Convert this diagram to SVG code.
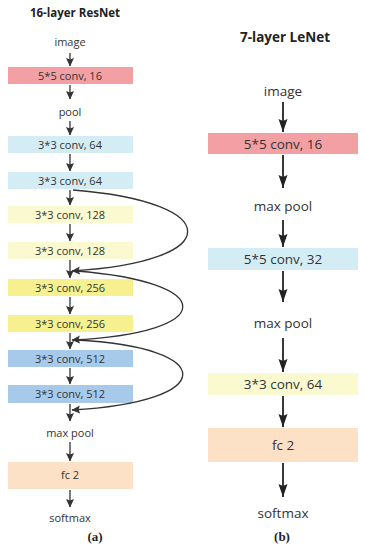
<svg xmlns="http://www.w3.org/2000/svg" width="365" height="550" viewBox="0 0 365 550">
<defs>
<marker id="ah" markerUnits="userSpaceOnUse" markerWidth="10" markerHeight="9" refX="8" refY="4" orient="auto">
<path d="M0,0 L8.5,4 L0,8 L1.5,4 z" fill="#333"/>
</marker>
<marker id="ahb" markerUnits="userSpaceOnUse" markerWidth="14" markerHeight="10" refX="13" refY="4.5" orient="auto">
<path d="M0,0 L13,4.5 L0,9 L2,4.5 z" fill="#222"/>
</marker>
</defs>
<style>
text{font-family:"Open Sans","Noto Sans","DejaVu Sans",sans-serif;fill:#333;text-anchor:middle}
.s{font-size:11px}
.b{font-size:13.5px}
.t{font-weight:bold;font-size:11.5px;fill:#222}
.t2{font-weight:bold;font-size:13.5px;fill:#222}
.cap{font-family:"Liberation Serif",serif;font-weight:bold;font-size:13px;fill:#222}
.red{fill:#F2A0A3}.lb{fill:#D4EDF5}.ly{fill:#FBF9CF}.yl{fill:#F6F18E}.bl{fill:#A7C9EA}.pc{fill:#FDE1C6}
.c line,.c path{stroke:#333;stroke-width:1.3;fill:none}
.r line{stroke:#222;stroke-width:1.8}
</style>

<text class="t" x="75" y="17">16-layer ResNet</text>
<text class="t2" x="285" y="42">7-layer LeNet</text>

<g id="a-image"><text class="s" x="70" y="46">image</text></g>
<g id="a-conv1"><rect class="red" x="8" y="67" width="125" height="17"/><text class="s" x="70" y="79.5">5*5 conv, 16</text></g>
<g id="a-pool"><text class="s" x="70" y="116">pool</text></g>
<g id="a-conv2"><rect class="lb" x="8" y="136" width="125" height="17"/><text class="s" x="70" y="148.5">3*3 conv, 64</text></g>
<g id="a-conv3"><rect class="lb" x="8" y="172" width="125" height="17"/><text class="s" x="70" y="184.5">3*3 conv, 64</text></g>
<g id="a-conv4"><rect class="ly" x="8" y="206" width="125" height="17"/><text class="s" x="70" y="218.5">3*3 conv, 128</text></g>
<g id="a-conv5"><rect class="ly" x="8" y="242" width="125" height="17"/><text class="s" x="70" y="254.5">3*3 conv, 128</text></g>
<g id="a-conv6"><rect class="yl" x="8" y="279" width="125" height="17"/><text class="s" x="70" y="291.5">3*3 conv, 256</text></g>
<g id="a-conv7"><rect class="yl" x="8" y="315" width="125" height="17"/><text class="s" x="70" y="327.5">3*3 conv, 256</text></g>
<g id="a-conv8"><rect class="bl" x="8" y="350" width="125" height="17"/><text class="s" x="70" y="362.5">3*3 conv, 512</text></g>
<g id="a-conv9"><rect class="bl" x="8" y="385" width="125" height="18"/><text class="s" x="70" y="398">3*3 conv, 512</text></g>
<g id="a-maxpool"><text class="s" x="70" y="437">max pool</text></g>
<g id="a-fc"><rect class="pc" x="8" y="462" width="125" height="27"/><text class="s" x="70" y="479">fc 2</text></g>
<g id="a-softmax"><text class="s" x="70" y="522">softmax</text></g>
<text class="cap" x="95" y="541">(a)</text>

<g id="b-image"><text class="b" x="283" y="96">image</text></g>
<g id="b-conv1"><rect class="red" x="208" y="133" width="150" height="21"/><text class="b" x="283" y="148.5">5*5 conv, 16</text></g>
<g id="b-pool1"><text class="b" x="283" y="211">max pool</text></g>
<g id="b-conv2"><rect class="lb" x="208" y="248" width="150" height="22"/><text class="b" x="283" y="264">5*5 conv, 32</text></g>
<g id="b-pool2"><text class="b" x="283" y="328">max pool</text></g>
<g id="b-conv3"><rect class="ly" x="208" y="373" width="150" height="22"/><text class="b" x="283" y="389">3*3 conv, 64</text></g>
<g id="b-fc"><rect class="pc" x="208" y="428" width="150" height="34"/><text class="b" x="283" y="450">fc 2</text></g>
<g id="b-softmax"><text class="b" x="283" y="518">softmax</text></g>
<text class="cap" x="282" y="541">(b)</text>

<g id="connectors">
<g class="c">
<line x1="70" y1="53" x2="70" y2="66" marker-end="url(#ah)"/>
<line x1="70" y1="85" x2="70" y2="99" marker-end="url(#ah)"/>
<line x1="70" y1="121" x2="70" y2="135" marker-end="url(#ah)"/>
<line x1="70" y1="154" x2="70" y2="171" marker-end="url(#ah)"/>
<line x1="70" y1="190" x2="70" y2="205" marker-end="url(#ah)"/>
<line x1="70" y1="224" x2="70" y2="241" marker-end="url(#ah)"/>
<line x1="70" y1="260" x2="70" y2="278" marker-end="url(#ah)"/>
<line x1="70" y1="297" x2="70" y2="314" marker-end="url(#ah)"/>
<line x1="70" y1="333" x2="70" y2="349" marker-end="url(#ah)"/>
<line x1="70" y1="368" x2="70" y2="384" marker-end="url(#ah)"/>
<line x1="70" y1="404" x2="70" y2="421" marker-end="url(#ah)"/>
<line x1="70" y1="442" x2="70" y2="461" marker-end="url(#ah)"/>
<line x1="70" y1="490" x2="70" y2="507" marker-end="url(#ah)"/>
<path d="M73,190 C226,202 226,262 72,271" marker-end="url(#ah)"/>
<path d="M76,271 C219,282 219,333 72,340" marker-end="url(#ah)"/>
<path d="M76,340 C219,347 219,402 72,410" marker-end="url(#ah)"/>
</g>
<g class="r">
<line x1="283" y1="102" x2="283" y2="132" marker-end="url(#ahb)"/>
<line x1="283" y1="155" x2="283" y2="188" marker-end="url(#ahb)"/>
<line x1="283" y1="220" x2="283" y2="247" marker-end="url(#ahb)"/>
<line x1="283" y1="271" x2="283" y2="302" marker-end="url(#ahb)"/>
<line x1="283" y1="338" x2="283" y2="372" marker-end="url(#ahb)"/>
<line x1="283" y1="396" x2="283" y2="427" marker-end="url(#ahb)"/>
<line x1="283" y1="463" x2="283" y2="497" marker-end="url(#ahb)"/>
</g>
</g>
</svg>
